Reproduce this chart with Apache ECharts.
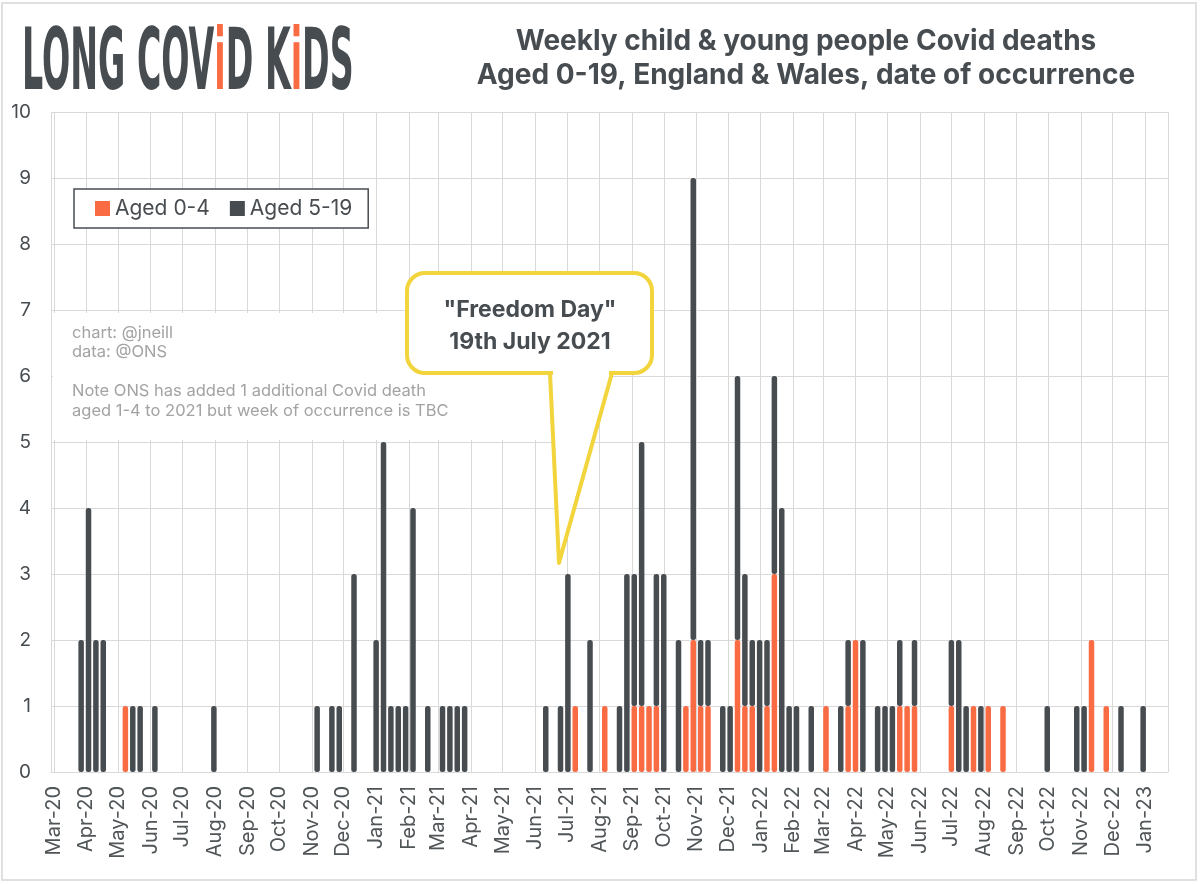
<!DOCTYPE html>
<html>
<head>
<meta charset="utf-8">
<title>Weekly child & young people Covid deaths</title>
<script src="https://cdn.jsdelivr.net/npm/echarts@6/dist/echarts.min.js"></script>
<style>
  html, body { margin: 0; padding: 0; background: #fff; }
  #chart { width: 1200px; height: 884px; }
</style>
</head>
<body>
<div id="chart"></div>
<script>
// week ending (Friday) of every week with at least one death
const weekEnding = [
  '2020-03-27', '2020-04-03', '2020-04-10', '2020-04-17', '2020-05-08', '2020-05-15', '2020-05-22',
  '2020-06-05', '2020-07-31', '2020-11-06', '2020-11-20', '2020-11-27', '2020-12-11',
  '2021-01-01', '2021-01-08', '2021-01-15', '2021-01-22', '2021-01-29', '2021-02-05', '2021-02-19',
  '2021-03-05', '2021-03-12', '2021-03-19', '2021-03-26',
  '2021-06-11', '2021-06-25', '2021-07-02', '2021-07-09', '2021-07-23', '2021-08-06', '2021-08-20',
  '2021-08-27', '2021-09-03', '2021-09-10', '2021-09-17', '2021-09-24',
  '2021-10-01', '2021-10-15', '2021-10-22', '2021-10-29', '2021-11-05', '2021-11-12', '2021-11-26',
  '2021-12-03', '2021-12-10', '2021-12-17', '2021-12-24', '2021-12-31',
  '2022-01-07', '2022-01-14', '2022-01-21', '2022-01-28', '2022-02-04', '2022-02-18', '2022-03-04',
  '2022-03-18', '2022-03-25', '2022-04-01', '2022-04-08', '2022-04-22',
  '2022-04-29', '2022-05-06', '2022-05-13', '2022-05-20', '2022-05-27', '2022-07-01', '2022-07-08',
  '2022-07-15', '2022-07-22', '2022-07-29', '2022-08-05', '2022-08-19',
  '2022-09-30', '2022-10-28', '2022-11-04', '2022-11-11', '2022-11-25', '2022-12-09', '2022-12-30'
]
const aged0to4 = [
  0, 0, 0, 0, 1, 0, 0, 0, 0, 0, 0, 0, 0,
  0, 0, 0, 0, 0, 0, 0, 0, 0, 0, 0,
  0, 0, 0, 1, 0, 1, 0, 0, 1, 1, 1, 1,
  0, 0, 1, 2, 1, 1, 0, 0, 2, 1, 1, 0,
  1, 3, 0, 0, 0, 0, 1, 0, 1, 2, 0, 0,
  0, 0, 1, 1, 1, 1, 0, 0, 1, 0, 1, 1,
  0, 0, 0, 2, 1, 0, 0
]
const aged5to19 = [
  2, 4, 2, 2, 0, 1, 1, 1, 1, 1, 1, 1, 3,
  2, 5, 1, 1, 1, 4, 1, 1, 1, 1, 1,
  1, 1, 3, 0, 2, 0, 1, 3, 2, 4, 0, 2,
  3, 2, 0, 7, 1, 1, 1, 1, 4, 2, 1, 2,
  1, 3, 4, 1, 1, 1, 0, 1, 1, 0, 2, 1,
  1, 1, 1, 0, 1, 1, 2, 1, 0, 1, 0, 0,
  1, 1, 1, 0, 0, 1, 1
]
const seriesNames = ['Aged 0-4', 'Aged 5-19']
const axisStart = '2020-03-01'
const axisEnd = '2023-01-20'
const titleLines = [
  'Weekly child & young people Covid deaths',
  'Aged 0-19, England & Wales, date of occurrence'
]
const noteLines = [
  'chart: @jneill',
  'data: @ONS',
  '',
  'Note ONS has added 1 additional Covid death',
  'aged 1-4 to 2021 but week of occurrence is TBC'
]
const calloutLines = ['"Freedom Day"', '19th July 2021']

const ORANGE = '#f86b43'
const DARK = '#474c51'
const GRID = '#d9d9d9'
const YELLOW = '#f2d43c'
const FONT = 'Inter, "Noto Sans", sans-serif'
const LOGO_FONT = '"Liberation Sans Narrow", "DejaVu Sans Condensed", sans-serif'
const DAY = 24 * 3600 * 1000

const chart = echarts.init(document.getElementById('chart'))

const barStyle = color => ({
  color: color,
  borderRadius: 2.5
})

chart.setOption({
  backgroundColor: '#fff',
  animation: false,
  textStyle: { fontFamily: FONT },
  grid: {
    left: 51,
    right: 32,
    top: 112,
    bottom: 112
  },
  legend: {
    data: seriesNames,
    left: 74,
    top: 189,
    icon: 'rect',
    itemWidth: 15,
    itemHeight: 15,
    itemGap: 20,
    padding: [9, 16, 9, 21],
    borderColor: DARK,
    borderWidth: 1.5,
    backgroundColor: '#fff',
    textStyle: {
      fontSize: 21,
      color: DARK,
      fontFamily: FONT
    }
  },
  xAxis: {
    type: 'time',
    min: axisStart,
    max: axisEnd,
    minInterval: 28 * DAY,
    maxInterval: 31 * DAY,
    splitNumber: 35,
    axisLine: { lineStyle: { color: GRID } },
    axisTick: { show: false },
    splitLine: { show: true, lineStyle: { color: GRID, width: 1 } },
    axisLabel: {
      rotate: 90,
      formatter: '{MMM}-{yy}',
      fontSize: 20,
      color: '#505558',
      margin: 14,
      hideOverlap: false
    }
  },
  yAxis: {
    type: 'value',
    min: 0,
    max: 10,
    interval: 1,
    axisLine: { show: false },
    axisTick: { show: false },
    splitLine: { lineStyle: { color: GRID, width: 1 } },
    axisLabel: {
      fontSize: 19,
      color: DARK,
      margin: 20
    }
  },
  series: [
    {
      name: seriesNames[0],
      type: 'bar',
      stack: 'deaths',
      barWidth: 5.5,
      itemStyle: barStyle(ORANGE),
      data: weekEnding.map((d, i) => [d, aged0to4[i]])
    },
    {
      name: seriesNames[1],
      type: 'bar',
      stack: 'deaths',
      barWidth: 5.5,
      itemStyle: barStyle(DARK),
      data: weekEnding.map((d, i) => [d, aged5to19[i]])
    }
  ],
  graphic: [
    // outer frame
    {
      type: 'rect',
      z: 0,
      shape: { x: 2, y: 3, width: 1194, height: 877 },
      style: { fill: 'none', stroke: '#d6d6d6', lineWidth: 1.5 }
    },
    // logo
    {
      type: 'text',
      x: 22,
      y: 24,
      scaleX: 0.43,
      z: 10,
      style: {
        text: 'LONG COV{o|i}D K{o|i}DS',
        fontFamily: LOGO_FONT,
        fontWeight: 'bold',
        fontSize: 86,
        fill: DARK,
        rich: {
          o: {
            fontFamily: LOGO_FONT,
            fontWeight: 'bold',
            fontSize: 86,
            fill: ORANGE
          }
        }
      }
    },
    // title
    {
      type: 'text',
      x: 806,
      y: 25,
      z: 10,
      style: {
        text: titleLines.join('\n'),
        align: 'center',
        fontFamily: FONT,
        fontWeight: 'bold',
        fontSize: 28,
        lineHeight: 34,
        fill: DARK
      }
    },
    // white panel behind the credits / note
    {
      type: 'rect',
      z: 5,
      shape: { x: 53, y: 313, width: 495, height: 127 },
      style: { fill: '#fff' }
    },
    {
      type: 'text',
      x: 72,
      y: 323,
      z: 6,
      style: {
        text: noteLines.join('\n'),
        fontFamily: FONT,
        fontSize: 16.5,
        lineHeight: 19.5,
        fill: '#a3a3a3'
      }
    },
    // "Freedom Day" callout: box, pointer, and a white patch hiding the seam
    {
      type: 'rect',
      z: 7,
      shape: { x: 407, y: 273, width: 245, height: 100, r: 18 },
      style: { fill: '#fff', stroke: YELLOW, lineWidth: 4 }
    },
    {
      type: 'polygon',
      z: 7,
      shape: { points: [[550, 373], [559, 563], [612, 373]] },
      style: { fill: '#fff', stroke: YELLOW, lineWidth: 4, lineJoin: 'round' }
    },
    {
      type: 'rect',
      z: 7,
      shape: { x: 553, y: 369, width: 56, height: 7 },
      style: { fill: '#fff' }
    },
    {
      type: 'text',
      x: 530,
      y: 294,
      z: 8,
      style: {
        text: calloutLines.join('\n'),
        align: 'center',
        fontFamily: FONT,
        fontWeight: 'bold',
        fontSize: 23,
        lineHeight: 32,
        fill: DARK
      }
    }
  ]
})
</script>
</body>
</html>
